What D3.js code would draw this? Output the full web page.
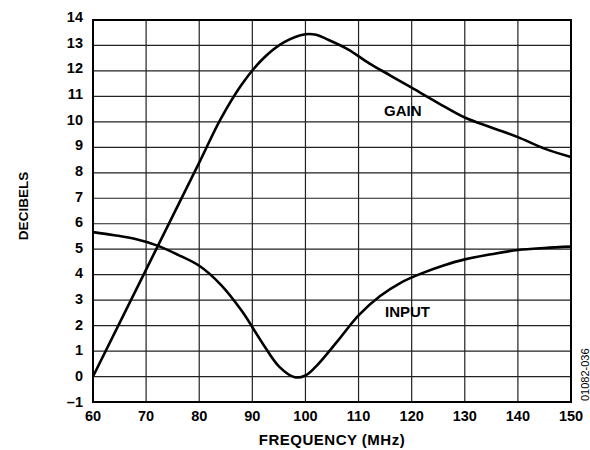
<!DOCTYPE html>
<html>
<head>
<meta charset="utf-8">
<script src="https://cdn.jsdelivr.net/npm/d3@7"></script>
<style>
body { margin: 0; background: #fff; }
text { font-family: Arial, "Liberation Sans", sans-serif; fill: #000; }
</style>
</head>
<body>
<svg id="chart" width="590" height="450"></svg>
<script>
// frequency ticks and decibel ticks
const xTicks = [60, 70, 80, 90, 100, 110, 120, 130, 140, 150];
const yTicks = [-1, 0, 1, 2, 3, 4, 5, 6, 7, 8, 9, 10, 11, 12, 13, 14];

// gain curve (MHz, dB)
const gainFreq = [60, 70, 80, 84, 88, 92, 96, 100, 102, 104, 108, 112, 116, 120, 125, 130, 135, 140, 145, 150];
const gainDb   = [0, 4.2, 8.4, 10.1, 11.47, 12.48, 13.13, 13.44, 13.42, 13.25, 12.85, 12.3, 11.82, 11.34, 10.74, 10.17, 9.78, 9.4, 8.95, 8.62];

// input curve
const inputFreq = [60, 64, 68, 72, 76, 80, 84, 88, 92, 95, 98, 100, 102, 106, 110, 114, 118, 122, 126, 130, 135, 140, 145, 150];
const inputDb   = [5.67, 5.55, 5.4, 5.15, 4.78, 4.35, 3.62, 2.58, 1.28, 0.4, -0.03, 0.04, 0.4, 1.38, 2.4, 3.15, 3.69, 4.06, 4.36, 4.6, 4.8, 4.97, 5.05, 5.1];

const margin = {left: 93, top: 20, right: 19, bottom: 48};
const width = 590, height = 450;

const svg = d3.select("#chart");

const x = d3.scaleLinear().domain([60, 150]).range([margin.left, width - margin.right]);
const y = d3.scaleLinear().domain([-1, 14]).range([height - margin.bottom, margin.top]);

// grid
svg.append("g").selectAll("line")
	.data(xTicks.slice(1, -1))
	.join("line")
	.attr("x1", d => x(d)).attr("x2", d => x(d))
	.attr("y1", y(-1)).attr("y2", y(14))
	.attr("stroke", "#222").attr("stroke-width", 1.2);
svg.append("g").selectAll("line")
	.data(yTicks.slice(1, -1))
	.join("line")
	.attr("y1", d => y(d)).attr("y2", d => y(d))
	.attr("x1", x(60)).attr("x2", x(150))
	.attr("stroke", "#222").attr("stroke-width", 1.2);

// frame
svg.append("rect")
	.attr("x", x(60)).attr("y", y(14))
	.attr("width", x(150) - x(60)).attr("height", y(-1) - y(14))
	.attr("fill", "none").attr("stroke", "#000").attr("stroke-width", 2);

// tick labels
svg.append("g").selectAll("text")
	.data(yTicks)
	.join("text")
	.attr("x", 83).attr("y", d => y(d) + 4.5 - d * 0.18)
	.attr("text-anchor", "end")
	.style("font-size", "14.5px").style("font-weight", "bold")
	.text(d => d < 0 ? "\u2013" + Math.abs(d) : d);

svg.append("g").selectAll("text")
	.data(xTicks)
	.join("text")
	.attr("x", d => x(d)).attr("y", 421)
	.attr("text-anchor", "middle")
	.style("font-size", "14.5px").style("font-weight", "bold")
	.text(d => d);

// axis titles
svg.append("text")
	.attr("x", (x(60) + x(150)) / 2).attr("y", 445)
	.attr("text-anchor", "middle")
	.style("font-size", "15px").style("font-weight", "bold")
	.style("letter-spacing", "0.5px")
	.text("FREQUENCY (MHz)");

svg.append("text")
	.attr("transform", "translate(28,206) rotate(-90)")
	.attr("text-anchor", "middle")
	.style("font-size", "13.5px").style("font-weight", "bold")
	.text("DECIBELS");

svg.append("text")
	.attr("transform", "translate(589,401) rotate(-90)")
	.attr("text-anchor", "start")
	.style("font-size", "11px")
	.text("01082-036");

// curves
const line = d3.line()
	.x(d => x(d[0]))
	.y(d => y(d[1]))
	.curve(d3.curveCatmullRom.alpha(0.5));

svg.append("path")
	.datum(d3.zip(gainFreq, gainDb))
	.attr("d", line)
	.attr("fill", "none").attr("stroke", "#000").attr("stroke-width", 2.6);

svg.append("path")
	.datum(d3.zip(inputFreq, inputDb))
	.attr("d", line)
	.attr("fill", "none").attr("stroke", "#000").attr("stroke-width", 2.6);

// curve labels
svg.append("text")
	.attr("x", 384).attr("y", 116)
	.style("font-size", "15px").style("font-weight", "bold")
	.text("GAIN");

svg.append("text")
	.attr("x", 385).attr("y", 317)
	.style("font-size", "15px").style("font-weight", "bold")
	.text("INPUT");
</script>
</body>
</html>
